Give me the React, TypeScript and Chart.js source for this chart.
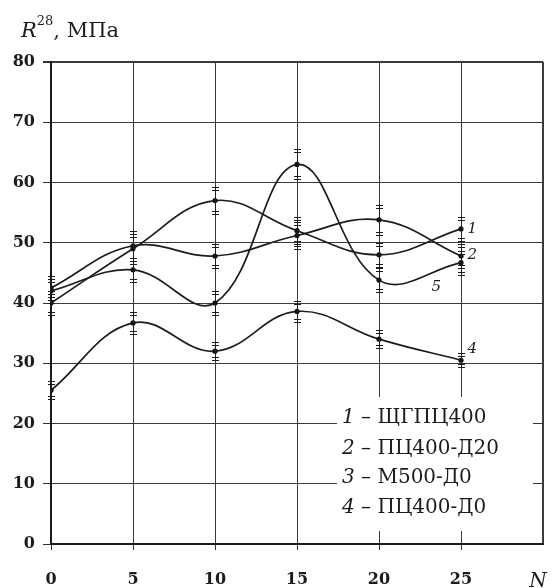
import React, { useEffect, useRef } from "react";
import { Chart, registerables } from "chart.js";

Chart.register(...registerables);

// ---- data ----
const N = [0, 5, 10, 15, 20, 25];
const s1 = [40, 49, 57, 52, 48, 52.3];
const s2 = [42.5, 49.5, 47.8, 51.2, 53.8, 47.8];
const s3 = [42, 45.5, 40, 63, 43.8, 46.7];
const s4 = [25.5, 36.7, 32, 38.6, 34, 30.5];
const e1 = [2, 2.5, 2.3, 2.2, 2, 2];
const e2 = [2, 2.5, 2, 2.2, 2.5, 2];
const e3 = [2, 2, 2, 2.5, 2, 2];
const e4 = [1.5, 1.8, 1.5, 1.8, 1.5, 1.2];
const seriesNumbers = ["1", "2", "3", "4"];
const seriesNames = ["ЩГПЦ400", "ПЦ400-Д20", "М500-Д0", "ПЦ400-Д0"];
const curveLabelText = ["1", "2", "5", "4"];
const curveLabelN = [25.4, 25.4, 23.2, 25.4];
const curveLabelV = [52.3, 47.9, 42.6, 32.3];
const yTitleMain = "R";
const yTitleSup = "28";
const yTitleRest = ", МПа";
const xTitle = "N";

const SERIF = "'DejaVu Serif', serif";
const INK = "#1c1c1c";

const values = [s1, s2, s3, s4];
const errors = [e1, e2, e3, e4];

const overlayPlugin = {
  id: "overlay",
  afterDatasetsDraw(chart: any) {
    const { ctx } = chart;
    const xs = chart.scales.x;
    const ys = chart.scales.y;
    ctx.save();
    ctx.strokeStyle = INK;
    ctx.lineWidth = 1;
    values.forEach((vals, si) => {
      vals.forEach((v, i) => {
        const px = Math.round(xs.getPixelForValue(N[i])) + 0.5;
        const top = ys.getPixelForValue(v + errors[si][i]);
        const bot = ys.getPixelForValue(v - errors[si][i]);
        ctx.beginPath();
        ctx.moveTo(px, top);
        ctx.lineTo(px, bot);
        for (const yy of [top, top + 3, bot, bot - 3]) {
          const r = Math.round(yy) + 0.5;
          ctx.moveTo(px - 3.5, r);
          ctx.lineTo(px + 3.5, r);
        }
        ctx.stroke();
      });
    });
    ctx.restore();
  },
  afterDraw(chart: any) {
    const { ctx } = chart;
    const xs = chart.scales.x;
    const ys = chart.scales.y;
    ctx.save();
    // legend box (covers grid)
    ctx.fillStyle = "#ffffff";
    ctx.fillRect(337, 397, 196, 134);
    ctx.fillStyle = INK;
    ctx.textBaseline = "alphabetic";
    const baselines = [423, 454, 483, 513];
    seriesNumbers.forEach((num, i) => {
      let x = 342;
      ctx.font = `italic 20px ${SERIF}`;
      ctx.fillText(num, x, baselines[i]);
      x += ctx.measureText(num).width;
      ctx.font = `20px ${SERIF}`;
      const rest = " – " + seriesNames[i];
      ctx.fillText(rest, x, baselines[i]);
    });
    // curve labels
    ctx.font = `italic 15px ${SERIF}`;
    ctx.textAlign = "left";
    ctx.textBaseline = "middle";
    curveLabelText.forEach((t, i) => {
      ctx.fillText(t, xs.getPixelForValue(curveLabelN[i]), ys.getPixelForValue(curveLabelV[i]));
    });
    // y title
    ctx.textBaseline = "alphabetic";
    ctx.font = `italic 21px ${SERIF}`;
    let tx = 21;
    ctx.fillText(yTitleMain, tx, 37);
    tx += ctx.measureText(yTitleMain).width;
    ctx.font = `13px ${SERIF}`;
    ctx.fillText(yTitleSup, tx, 25);
    tx += ctx.measureText(yTitleSup).width;
    ctx.font = `21px ${SERIF}`;
    ctx.fillText(yTitleRest, tx, 37);
    // x title
    ctx.font = `italic 20px ${SERIF}`;
    ctx.textAlign = "center";
    ctx.fillText(xTitle, 538, 587);
    ctx.restore();
  },
};

export default function App() {
  const ref = useRef<HTMLCanvasElement | null>(null);
  useEffect(() => {
    if (!ref.current) return;
    const mk = (vals: number[]) => ({
      data: N.map((n, i) => ({ x: n, y: vals[i] })),
      borderColor: INK,
      borderWidth: 1.7,
      tension: 0.4,
      pointRadius: 2.6,
      pointBackgroundColor: "#111",
      pointBorderWidth: 0,
      fill: false,
    });
    const tickFont = { family: SERIF, size: 16, weight: "bold" as const };
    const chart = new Chart(ref.current, {
      type: "line",
      data: { datasets: values.map(mk) },
      options: {
        responsive: false,
        animation: false,
        devicePixelRatio: 1,
        layout: { padding: { top: 62, right: 9, left: 0, bottom: 0 } },
        plugins: { legend: { display: false }, tooltip: { enabled: false } },
        scales: {
          x: {
            type: "linear",
            min: 0,
            max: 30,
            afterFit: (s: any) => {
              s.height = 44;
              s.paddingLeft = 0;
              s.paddingRight = 0;
            },
            ticks: {
              stepSize: 5,
              autoSkip: false,
              maxRotation: 0,
              padding: 20,
              color: INK,
              font: tickFont,
              callback: (v: any) => (v === 30 ? "" : String(v)),
            },
            grid: {
              color: "#3a3a3a",
              lineWidth: (c: any) => (c.tick && c.tick.value === 30 ? 2 : 1),
              tickLength: 6,
              tickColor: (c: any) => (c.tick && c.tick.value === 30 ? "rgba(0,0,0,0)" : "#333"),
            },
            border: { color: INK, width: 2 },
          },
          y: {
            min: 0,
            max: 80,
            afterFit: (s: any) => {
              s.width = 51;
              s.paddingTop = 0;
              s.paddingBottom = 0;
            },
            ticks: {
              stepSize: 10,
              padding: 8,
              color: INK,
              font: tickFont,
            },
            grid: {
              color: "#3a3a3a",
              lineWidth: (c: any) => (c.tick && c.tick.value === 80 ? 2 : 1),
              tickLength: 8,
              tickColor: "#333",
            },
            border: { color: INK, width: 2 },
          },
        },
      },
      plugins: [overlayPlugin],
    });
    return () => chart.destroy();
  }, []);
  return (
    <div style={{ position: "fixed", left: 0, top: 0, width: 552, height: 588, background: "#fff" }}>
      <canvas ref={ref} width={552} height={588} style={{ display: "block" }} />
    </div>
  );
}
